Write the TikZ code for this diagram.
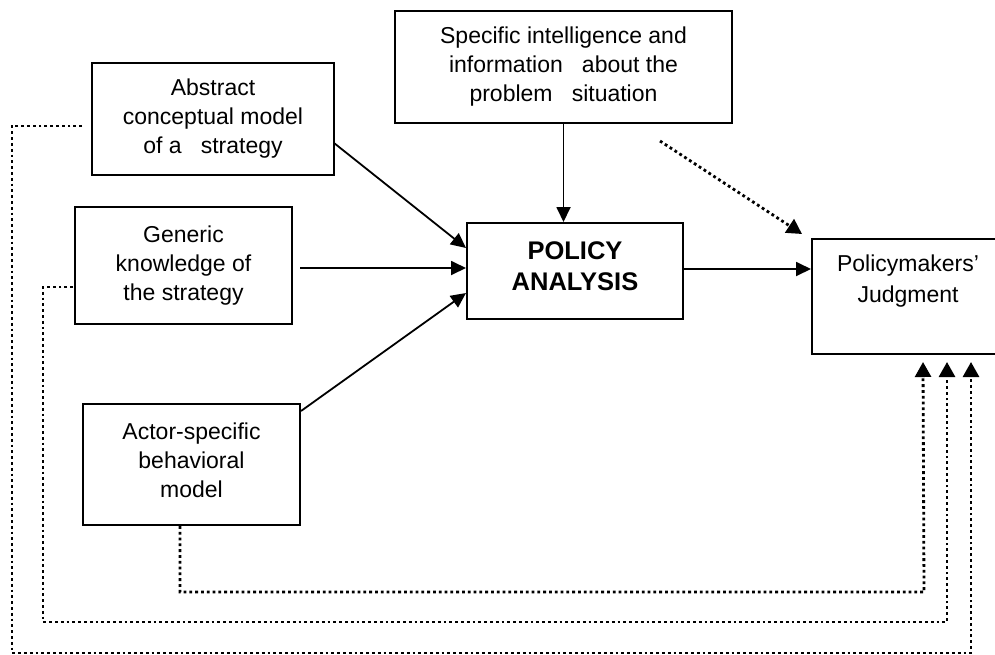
\documentclass[tikz,border=0pt]{standalone}
\usepackage{fontspec}
\setmainfont{Liberation Sans}
\usetikzlibrary{arrows.meta,calc}
\begin{document}
\begin{tikzpicture}[x=1pt,y=-1pt,
  box/.style={draw,line width=2pt,align=center,inner sep=0pt,
    font=\fontsize{23}{29}\selectfont},
  txt/.style={align=center,inner sep=0pt,font=\fontsize{23}{31}\selectfont},
  arr/.style={line width=1.8pt,-{Triangle[length=15pt,width=14pt]}},
  fb/.style={line width=2.8pt,dash pattern=on 2.8pt off 3pt,
    -{Triangle[length=15pt,width=16pt]}}]
\useasboundingbox (0,0) rectangle (995,654);
\clip (0,0) rectangle (995,654);

% source boxes
\node[box,minimum width=337pt,minimum height=112pt] (top) at (563.5,67)
  {Specific intelligence and\\information\ \ \ about the\\problem\ \ \ situation};
\node[box,minimum width=242pt,minimum height=112pt] (abs) at (213,119)
  {Abstract\\conceptual model\\of a\ \ \ strategy};
\node[box,minimum width=217pt,minimum height=117pt] (gen) at (183.5,265.5)
  {Generic\\knowledge of\\the strategy};
\node[box,minimum width=217pt,minimum height=121pt,text depth=8pt] (act) at (191.5,464.5)
  {Actor-specific\\behavioral\\model};

% analysis and judgment
\node[box,minimum width=216pt,minimum height=96pt,text depth=9pt,
  font=\bfseries\fontsize{25.5}{31}\selectfont] (pa) at (575,271)
  {POLICY\\ANALYSIS};
\node[draw,line width=2pt,minimum width=192pt,minimum height=115pt] (pm) at (908,296.5) {};
\node[txt] (pmt) at (908,281) {Policymakers'\\Judgment};

% inputs to the analysis
\draw[arr] (top.south) -- (top.south |- pa.north);
\draw[arr] ($(abs.east)+(-1,24)$) -- ($(pa.west)+(0,-23)$);
\draw[arr] ($(gen.east)+(7,2.5)$) -- ($(pa.west)+(0,-3)$);
\draw[arr] ($(act.north east)+(0,8)$) -- ($(pa.west)+(0,22)$);
\draw[arr] ($(pa.east)+(0,-2)$) -- ($(pm.west)+(0,-27.5)$);

% direct influence on judgment
\coordinate (d0) at ($(top.south)+(96.5,17)$);
\draw[fb] (d0) -- ($(pm.north west)+(-9,-4)$);

% feedback paths
\draw[fb] ($(abs.west)+(-9,7)$) -| (12,653) -| ($(pm.south west)+(160,7)$);
\draw[fb] ($(gen.west)+(-1,21.5)$) -| (43,622) -| ($(pm.south west)+(136,7)$);
\draw[fb] ($(act.south)+(-11.5,0)$) |- (924,592) -- ($(pm.south west)+(112,7)$);
\end{tikzpicture}
\end{document}
